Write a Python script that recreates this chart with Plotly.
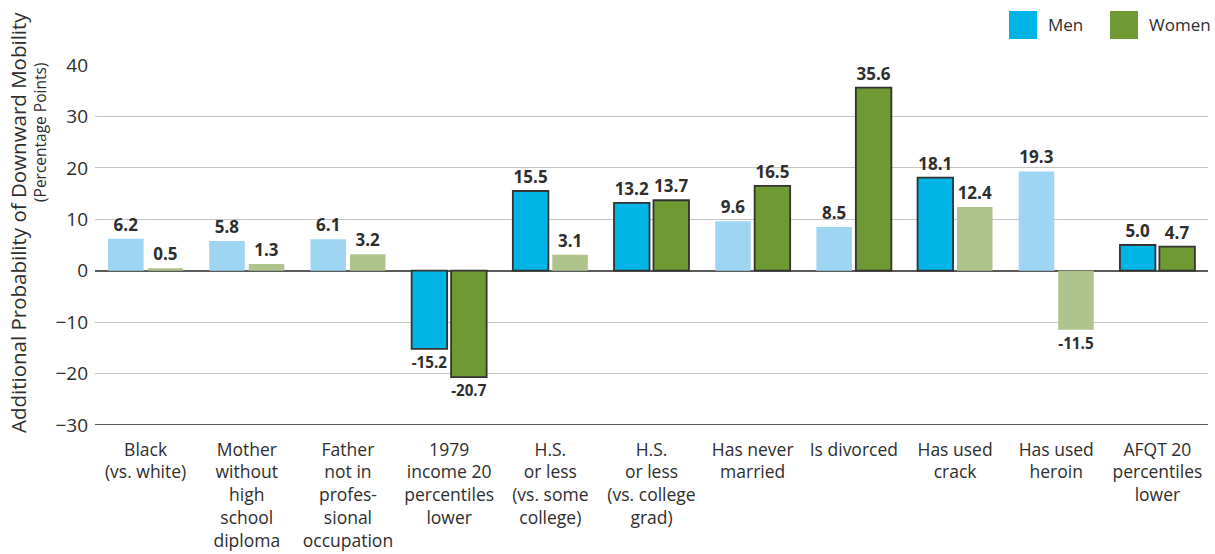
import plotly.graph_objects as go

categories = [
    "Black<br>(vs. white)",
    "Mother<br>without<br>high<br>school<br>diploma",
    "Father<br>not in<br>profes-<br>sional<br>occupation",
    "1979<br>income 20<br>percentiles<br>lower",
    "H.S.<br>or less<br>(vs. some<br>college)",
    "H.S.<br>or less<br>(vs. college<br>grad)",
    "Has never<br>married",
    "Is divorced",
    "Has used<br>crack",
    "Has used<br>heroin",
    "AFQT 20<br>percentiles<br>lower",
]
men = [6.2, 5.8, 6.1, -15.2, 15.5, 13.2, 9.6, 8.5, 18.1, 19.3, 5.0]
women = [0.5, 1.3, 3.2, -20.7, 3.1, 13.7, 16.5, 35.6, 12.4, -11.5, 4.7]
men_significant = [False, False, False, True, True, True, False, False, True, False, True]
women_significant = [False, False, False, True, False, True, True, True, False, False, True]
y_title_1 = "Additional Probability of Downward Mobility"
y_title_2 = "(Percentage Points)"

MEN_SIG, MEN_NS = "#00B4E6", "#9DD5F2"
WOMEN_SIG, WOMEN_NS = "#6E9933", "#AEC48C"
BORDER = "#333333"
FONT = "Open Sans"
TXT = "#2E2E2E"

def colors(sig, c_sig, c_ns):
    return [c_sig if s else c_ns for s in sig]

def widths(sig):
    return [1.8 if s else 0 for s in sig]

fig = go.Figure()
for name, vals, sig, cs, cn in [("Men", men, men_significant, MEN_SIG, MEN_NS),
                                 ("Women", women, women_significant, WOMEN_SIG, WOMEN_NS)]:
    fig.add_trace(go.Bar(
        x=categories, y=vals, name=name,
        marker=dict(color=colors(sig, cs, cn),
                    line=dict(color=BORDER, width=widths(sig))),
        text=[f"{v:.1f}" for v in vals], textposition="outside",
        textfont=dict(family=FONT, size=17, color=TXT, weight="bold"),
        cliponaxis=False, showlegend=False,
    ))

# pixel -> paper helpers
W, H = 1215, 554
ml, mr, mt, mb = 95, 7, 65, 129
pw, ph = W - ml - mr, H - mt - mb
def px(x):
    return (x - ml) / pw
def py(y):
    return 1 + (mt - y) / ph

# custom legend (large squares + labels)
legend_items = [("Men", MEN_SIG, 1009), ("Women", WOMEN_SIG, 1110)]
for label, col, x0 in legend_items:
    fig.add_shape(type="rect", xref="paper", yref="paper",
                  x0=px(x0), x1=px(x0 + 28), y0=py(39), y1=py(11),
                  fillcolor=col, line=dict(width=0))
    fig.add_annotation(xref="paper", yref="paper", x=px(x0 + 37), y=py(25),
                       text=label, showarrow=False, xanchor="left", yanchor="middle",
                       font=dict(family=FONT, size=17, color=TXT))

# y-axis title as two rotated lines
fig.add_annotation(xref="paper", yref="paper", x=px(18), y=py(223), text=y_title_1,
                   textangle=-90, showarrow=False, xanchor="center", yanchor="middle",
                   font=dict(family=FONT, size=20.5, color=TXT))
fig.add_annotation(xref="paper", yref="paper", x=px(40), y=py(133), text=y_title_2,
                   textangle=-90, showarrow=False, xanchor="center", yanchor="middle",
                   font=dict(family=FONT, size=15.5, color=TXT))

fig.update_layout(
    width=W, height=H,
    margin=dict(l=ml, r=mr, t=mt, b=mb),
    barmode="group", bargap=0.22, bargroupgap=0.1,
    plot_bgcolor="white", paper_bgcolor="white",
    font=dict(family=FONT, size=17, color=TXT),
    xaxis=dict(tickfont=dict(family=FONT, size=17.5, color=TXT),
               showgrid=False, ticks="", showline=False, tickangle=0,
               automargin=False, ticklabelstandoff=12),
    yaxis=dict(range=[-30, 40], dtick=10, tick0=0, automargin=False,
               tickfont=dict(family=FONT, size=19, color=TXT),
               showgrid=True, gridcolor="#C4C4C4", gridwidth=1.2,
               zeroline=True, zerolinecolor="#5A5A5A", zerolinewidth=2.2,
               ticks="", showline=False, ticklabelstandoff=6),
)
# darker baseline at bottom of plot
fig.add_shape(type="line", xref="paper", yref="y", x0=0, x1=1, y0=-30, y1=-30,
              line=dict(color="#5A5A5A", width=2))

fig.write_html("out.html", config={"displayModeBar": False},
               post_script="document.body.style.margin='0';")
